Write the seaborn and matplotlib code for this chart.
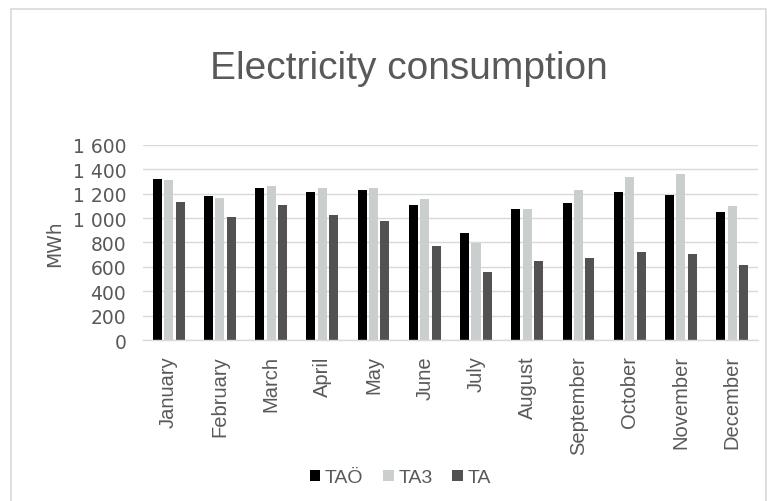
import matplotlib
matplotlib.use("Agg")
import matplotlib.pyplot as plt
import matplotlib.patches as mpatches
import pandas as pd
import seaborn as sns
from matplotlib.ticker import FuncFormatter

months = ["January", "February", "March", "April", "May", "June",
          "July", "August", "September", "October", "November", "December"]
series_names = ["TAÖ", "TA3", "TA"]
tao = [1320, 1178, 1246, 1216, 1230, 1108, 874, 1074, 1120, 1216, 1191, 1049]
ta3 = [1315, 1164, 1265, 1246, 1243, 1153, 793, 1074, 1227, 1336, 1358, 1101]
ta = [1134, 1006, 1107, 1027, 978, 773, 560, 648, 675, 719, 705, 617]
yticks = [0, 200, 400, 600, 800, 1000, 1200, 1400, 1600]

colors = ["#000000", "#cbcece", "#525252"]
text_color = "#595959"

df = pd.DataFrame({
    "month": months * 3,
    "series": [s for s in series_names for _ in months],
    "value": tao + ta3 + ta,
})

sns.set_theme(style="white")
plt.rcParams["font.family"] = ["Liberation Sans", "DejaVu Sans"]

fig = plt.figure(figsize=(7.67, 5.02), dpi=100)
ax = fig.add_axes([0.1864, 0.3207, 0.8016, 0.3885])

sns.barplot(data=df, x="month", y="value", hue="series", order=months,
            hue_order=series_names, palette=colors, width=0.67, gap=0.21,
            saturation=1, edgecolor="none", linewidth=0, ax=ax, legend=True)

ax.set_ylim(0, 1600)
ax.set_yticks(yticks)
ax.yaxis.set_major_formatter(FuncFormatter(lambda v, p: f"{int(v):,}".replace(",", " ")))
ax.grid(axis="y", color="#d9d9d9", linewidth=1)
ax.set_axisbelow(True)
for side in ["top", "right", "left"]:
    ax.spines[side].set_visible(False)
ax.spines["bottom"].set_color("#d9d9d9")
ax.spines["bottom"].set_linewidth(1)
ax.tick_params(axis="both", length=0)
ax.tick_params(axis="y", pad=12)
ax.tick_params(axis="x", pad=11)
for lbl in ax.get_yticklabels():
    lbl.set_family("DejaVu Sans")
    lbl.set_fontsize(13.5)
    lbl.set_color(text_color)
for lbl in ax.get_xticklabels():
    lbl.set_rotation(90)
    lbl.set_fontsize(14.5)
    lbl.set_color(text_color)
ax.set_xlabel("")
ax.set_ylabel("MWh", fontsize=13.5, color=text_color, labelpad=6,
              family="DejaVu Sans")

handles, labels = ax.get_legend_handles_labels()
ax.legend_.remove()
leg = fig.legend(handles, labels, loc="center", bbox_to_anchor=(0.522, 0.046),
                 ncol=3, frameon=False, fontsize=14, handlelength=0.55,
                 handleheight=0.55, handletextpad=0.25, columnspacing=1.0)
for t in leg.get_texts():
    t.set_color(text_color)

fig.text(0.533, 1 - 79 / 502, "Electricity consumption", ha="center",
         va="baseline", fontsize=28, color=text_color)

# light frame around the chart area
frame = mpatches.Rectangle((10.5 / 767, -0.05), (766 - 10.5) / 767, 1 - 10 / 502 + 0.05,
                           transform=fig.transFigure, fill=False,
                           edgecolor="#d9d9d9", linewidth=1.2)
fig.patches.append(frame)

fig.savefig("out.png", dpi=100, facecolor="white")
